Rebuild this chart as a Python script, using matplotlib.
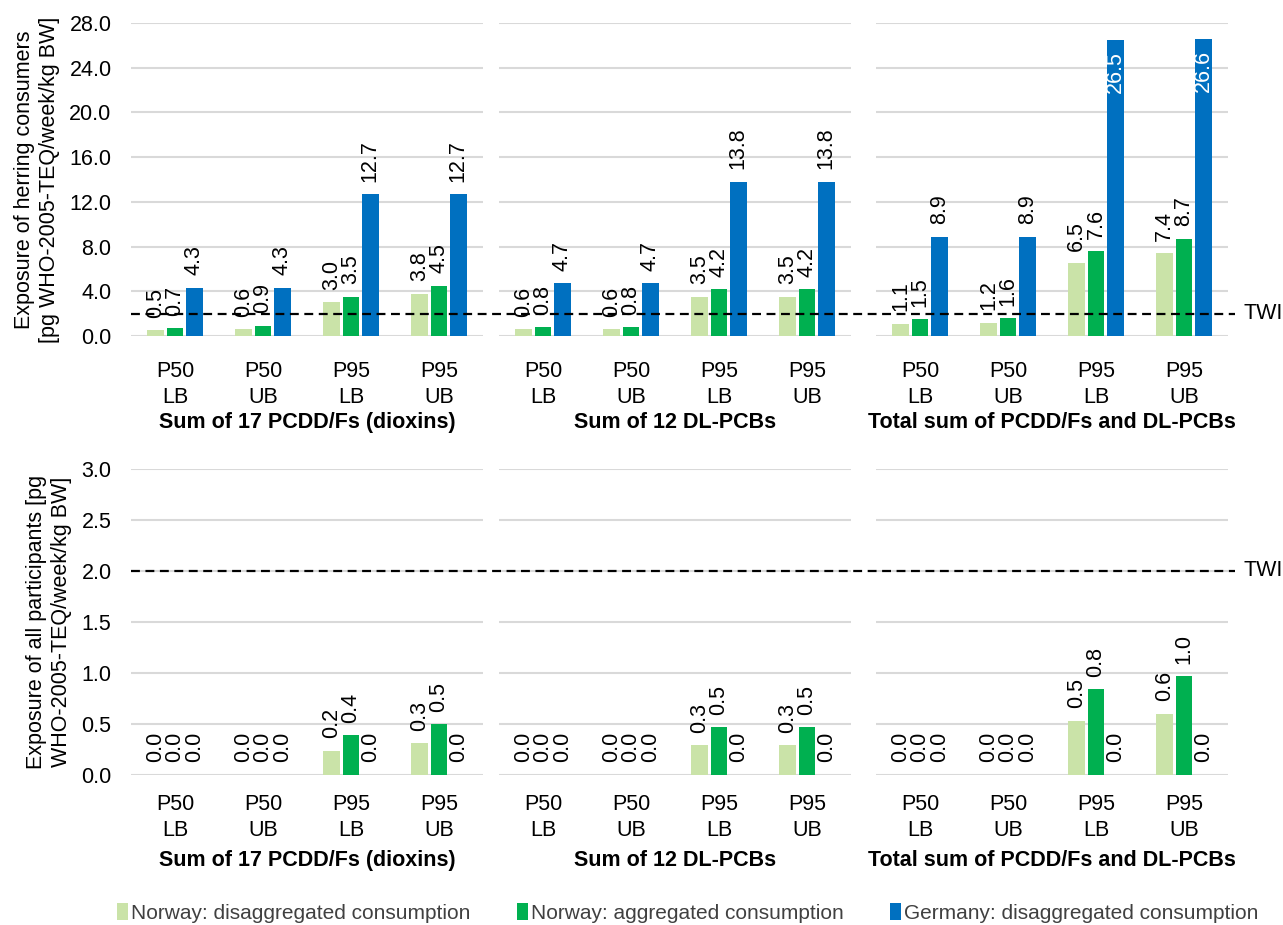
import matplotlib
matplotlib.use('Agg')
import matplotlib.pyplot as plt
from matplotlib.lines import Line2D
from matplotlib.patches import Patch
import matplotlib.transforms as mtransforms

plt.rcParams['font.family'] = ['Liberation Sans', 'DejaVu Sans']

groups = ['Sum of 17 PCDD/Fs (dioxins)', 'Sum of 12 DL-PCBs', 'Total sum of PCDD/Fs and DL-PCBs']
categories = ['P50\nLB', 'P50\nUB', 'P95\nLB', 'P95\nUB']
series_names = ['Norway: disaggregated consumption', 'Norway: aggregated consumption',
                'Germany: disaggregated consumption']
colors = ['#CAE3A8', '#00B050', '#0070C0']

# top row: herring consumers, one list per group
herring_nor_dis = [[0.5, 0.6, 3.0, 3.8], [0.6, 0.6, 3.5, 3.5], [1.1, 1.2, 6.5, 7.4]]
herring_nor_agg = [[0.7, 0.9, 3.5, 4.5], [0.8, 0.8, 4.2, 4.2], [1.5, 1.6, 7.6, 8.7]]
herring_ger_dis = [[4.3, 4.3, 12.7, 12.7], [4.7, 4.7, 13.8, 13.8], [8.9, 8.9, 26.5, 26.6]]

# bottom row: all participants
all_nor_dis = [[0.0, 0.0, 0.24, 0.31], [0.0, 0.0, 0.29, 0.29], [0.0, 0.0, 0.53, 0.60]]
all_nor_agg = [[0.0, 0.0, 0.39, 0.50], [0.0, 0.0, 0.47, 0.47], [0.0, 0.0, 0.84, 0.97]]
all_ger_dis = [[0.0, 0.0, 0.0, 0.0], [0.0, 0.0, 0.0, 0.0], [0.0, 0.0, 0.0, 0.0]]

twi = 2.0

fig = plt.figure(figsize=(12.83, 9.25), dpi=100)

lefts = [131 / 1283, 499 / 1283, 876 / 1283]
width = 352 / 1283


def draw_row(bottom, height, data, ymax, ystep, ylabel, tickpad, labelpad, inside_limit):
    axes = []
    for g in range(3):
        ax = fig.add_axes([lefts[g], bottom, width, height])
        for s in range(3):
            vals = data[s][g]
            xs = [i + (s - 1) * 0.22 for i in range(4)]
            ax.bar(xs, vals, width=0.19, color=colors[s], zorder=3)
            for x, v in zip(xs, vals):
                if v > inside_limit:
                    ax.annotate('%.1f' % v, (x, v), xytext=(0, -8), textcoords='offset points',
                                rotation=90, ha='center', va='top', color='white', fontsize=15.5)
                else:
                    ax.annotate('%.1f' % v, (x, v), xytext=(0, 9), textcoords='offset points',
                                rotation=90, ha='center', va='bottom', color='black', fontsize=15.5)
        ax.set_xlim(-0.5, 3.5)
        ax.set_ylim(0, ymax)
        ticks = [i * ystep for i in range(int(round(ymax / ystep)) + 1)]
        ax.set_yticks(ticks)
        ax.set_yticklabels(['%.1f' % t for t in ticks], fontsize=15.5)
        ax.set_xticks(range(4))
        ax.set_xticklabels(categories, fontsize=15.5, linespacing=1.3)
        ax.tick_params(axis='both', length=0)
        ax.tick_params(axis='x', pad=tickpad)
        ax.tick_params(axis='y', pad=14)
        ax.grid(axis='y', color='#D9D9D9', linewidth=1.5, zorder=0)
        ax.patch.set_visible(False)
        for sp in ax.spines.values():
            sp.set_visible(False)
        ax.set_xlabel(groups[g], fontsize=15.5, fontweight='bold', labelpad=labelpad)
        if g == 0:
            ax.set_ylabel(ylabel, fontsize=15.5, labelpad=7)
        else:
            ax.set_yticklabels([])
        axes.append(ax)

    # TWI line across the whole row
    trans = mtransforms.blended_transform_factory(fig.transFigure, axes[0].transData)
    fig.add_artist(Line2D([131 / 1283, 1235 / 1283], [twi, twi], transform=trans,
                          color='black', linestyle=(0, (4, 2.5)), linewidth=1.6, zorder=5))
    fig.text(1243 / 1283, twi, 'TWI', transform=trans, fontsize=15.5,
             ha='left', va='center')
    return axes


draw_row(1 - 336 / 925, 313 / 925,
         [herring_nor_dis, herring_nor_agg, herring_ger_dis],
         28.0, 4.0, 'Exposure of herring consumers\n[pg WHO-2005-TEQ/week/kg BW]',
         18, 3, 20)
draw_row(1 - 775 / 925, 306 / 925,
         [all_nor_dis, all_nor_agg, all_ger_dis],
         3.0, 0.5, 'Exposure of all participants [pg\nWHO-2005-TEQ/week/kg BW]',
         14, 6, 99)

handles = [Patch(facecolor=c) for c in colors]
fig.legend(handles, series_names, loc='center', bbox_to_anchor=(0.536, 1 - 913 / 925), ncol=3,
           frameon=False, fontsize=15, handlelength=0.55, handleheight=0.9, handletextpad=0.15,
           columnspacing=2.2, labelcolor='#404040')

plt.savefig('out.png', dpi=100)
